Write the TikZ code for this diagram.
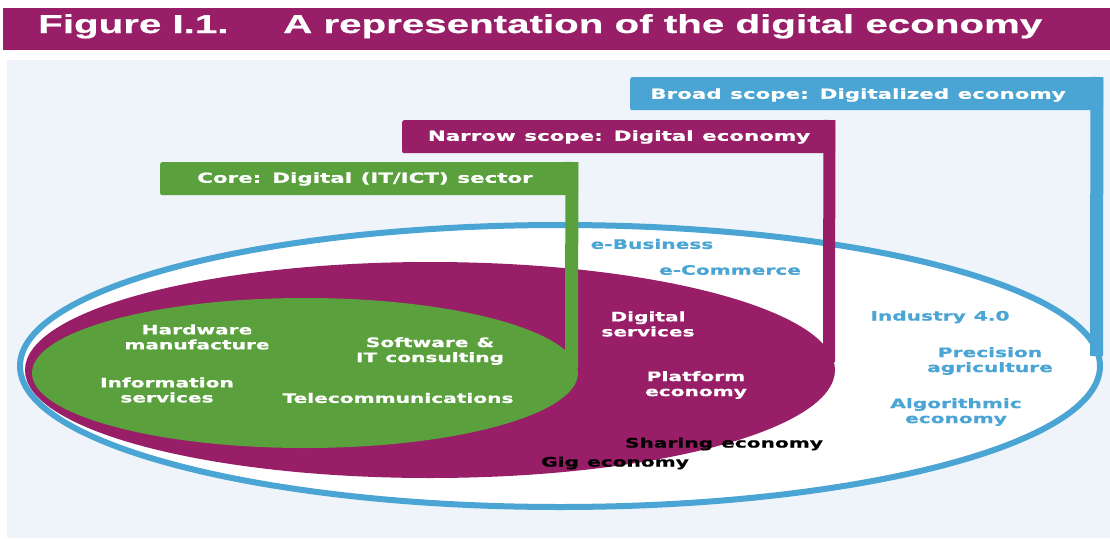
\documentclass[tikz,border=0pt]{standalone}
\usepackage{fontspec}
\usetikzlibrary{shapes.geometric}
\newfontfamily\titlefont[FakeStretch=1.55,FakeBold=0.6]{Liberation Sans Bold}
\newfontfamily\labelfont[FakeStretch=1.55,WordSpace=1.15,FakeBold=0.8]{DejaVu Sans Bold}
\definecolor{dmag}{RGB}{152,30,104}
\definecolor{dgreen}{RGB}{90,160,60}
\definecolor{dblue}{RGB}{74,164,212}
\definecolor{panel}{RGB}{238,244,250}
\tikzset{
  lbl/.style={font=\labelfont\fontsize{13}{15}\selectfont, align=center, inner sep=0pt},
  barlbl/.style={font=\labelfont\fontsize{13.8}{15}\selectfont, text=white, inner sep=0pt},
  ttl/.style={font=\titlefont\fontsize{26}{30}\selectfont, text=white, anchor=base west, inner sep=0pt},
  scopebar/.style={rounded corners=2pt, minimum height=33, inner sep=0pt, anchor=north west},
  area/.style={ellipse, inner sep=0pt, outer sep=0pt}
}
\begin{document}
\begin{tikzpicture}[x=1pt,y=-1pt]
\useasboundingbox (0,0) rectangle (1110,538);
\fill[panel] (7,60) rectangle (1110,538);
\fill[dmag] (3,8) rectangle (1110,50);
\node[ttl] (fig) at (38,33) {Figure I.1.};
\node[ttl] (title) at (283,33) {A representation of the digital economy};

% areas
\node[area, draw=dblue, line width=6pt, fill=white, minimum width=1080, minimum height=282] (broad) at (560,366) {};
\node[area, fill=dmag, minimum width=810, minimum height=216] (narrow) at (430,370) {};
\node[area, fill=dgreen, minimum width=546, minimum height=150] (core) at (305,373) {};

% bars
\node[scopebar, fill=dblue, minimum width=473] (broadbar) at (630,77) {};
\node[scopebar, fill=dmag, minimum width=433] (narrowbar) at (402,120) {};
\node[scopebar, fill=dgreen, minimum width=418] (corebar) at (160,162) {};

% connector ends
\coordinate (broadend) at (1096.5,356);
\coordinate (narrowend) at (829,362);
\coordinate (coreend) at (571.5,368);

% connectors
\draw[dblue, line width=13pt] ([xshift=-6.5pt]broadbar.north east) -- (broadend);
\draw[dmag, line width=12pt] ([xshift=-6pt]narrowbar.north east) -- (narrowend);
\draw[dgreen, line width=13pt] ([xshift=-6.5pt]corebar.north east) -- (coreend);

% bar labels
\node[barlbl] (broadtxt) at (858,95) {Broad scope: Digitalized economy};
\node[barlbl] (narrowtxt) at (619,137) {Narrow scope: Digital economy};
\node[barlbl] (coretxt) at (365,179) {Core: Digital (IT/ICT) sector};

% outer labels
\node[lbl, text=dblue] (ebus) at (652,244) {e-Business};
\node[lbl, text=dblue] (ecom) at (730,270) {e-Commerce};
\node[lbl, text=dblue] (ind) at (940,317) {Industry 4.0};
\node[lbl, text=dblue] (prec) at (990,361) {Precision\\agriculture};
\node[lbl, text=dblue] (algo) at (956,412) {Algorithmic\\economy};

% narrow labels
\node[lbl, text=white] (digserv) at (648,324) {Digital\\services};
\node[lbl, text=white] (plat) at (696,385) {Platform\\economy};
\node[lbl, text=black] (share) at (724,444) {Sharing economy};
\node[lbl, text=black] (gig) at (615,463) {Gig economy};

% core labels
\node[lbl, text=white] (hard) at (197,337) {Hardware\\manufacture};
\node[lbl, text=white] (soft) at (430,351) {Software \&\\IT consulting};
\node[lbl, text=white] (info) at (167,390) {Information\\services};
\node[lbl, text=white] (tele) at (398,398) {Telecommunications};
\end{tikzpicture}
\end{document}
